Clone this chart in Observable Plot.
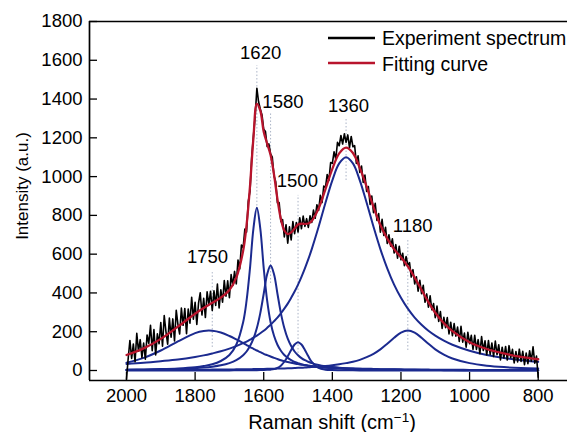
<!DOCTYPE html>
<html><head><meta charset="utf-8">
<script src="https://cdn.jsdelivr.net/npm/d3@7"></script>
<script src="https://cdn.jsdelivr.net/npm/@observablehq/plot@0.6"></script>
<style>
html,body{margin:0;padding:0;background:#fff;}
#chart svg{display:block;}
</style></head><body><div id="chart"></div>
<script>
// Raman shift grid (cm-1) on which the fitted curves were read
const shift = [2000,1950,1900,1850,1800,1775,1750,1725,1700,1680,1660,1650,1640,1630,1620,1610,1600,1590,1580,1570,1560,1550,1540,1530,1520,1510,1500,1490,1480,1470,1460,1440,1420,1400,1380,1360,1340,1320,1300,1280,1260,1240,1220,1200,1180,1160,1140,1120,1100,1075,1050,1000,950,900,850,800];
// fitted component bands (a.u.)
const band1750 = [40,65,103,150,193,204,205,196,178,160,141,131,121,112,103,95,86,79,72,65,59,53,48,44,40,36,33,30,27,25,23,19,16,15,13,11,10,9,9,8,7,7,6,6,5,5,5,4.5,4,4,4,3,3,3,2,2];
const band1620 = [3.9,5.2,7.2,10.6,17,23,32,49,80,133,249,360,528,732,840,732,528,360,249,179,133,102,80,65,53,44,38,32,28,24.5,21.6,17.2,14,11.6,9.7,8.3,7.2,6.3,5.5,4.9,4.4,3.9,3.5,3.2,2.9,2.7,2.5,2.3,2.1,1.9,1.75,1.5,1.3,1.1,1.0,0.85];
const band1580 = [3.3,4.3,5.7,8,11.9,15,19.7,26.6,38,53,79,98,126,164,219,296,396,496,541,496,396,296,219,164,126,98,79,64,53,45,38,28.5,22,17.6,14.3,11.9,10,8.6,7.4,6.5,5.7,5.1,4.5,4.0,3.7,3.3,3.0,2.8,2.5,2.3,2.1,1.75,1.5,1.3,1.1,0.97];
const band1500 = [0.1,0.1,0.2,0.2,0.3,0.3,0.4,0.5,0.6,0.7,0.9,1.1,1.2,1.4,1.8,2.1,2.4,3.2,4.4,7,13,25,45,73,106,134,146,134,106,73,45,13,4.4,2.4,1.6,1.1,0.8,0.6,0.6,0.5,0.4,0.4,0.3,0.3,0.3,0.3,0.2,0.2,0.2,0.2,0.2,0.1,0.1,0.1,0.1,0.1];
const band1360 = [34,40,48,57,70,78,88,99,113,126,141,149,159,169,180,192,205,220,236,254,273,295,319,345,375,407,443,483,527,574,626,741,865,981,1068,1100,1068,981,865,741,626,527,443,375,319,273,236,205,180,154,133,102,80,65,53,44.5];
const band1180 = [2.2,2.5,2.8,3.3,3.8,4.1,4.5,4.9,5.4,5.8,6.3,6.5,6.8,7.1,7.4,7.7,8.1,8.5,8.9,9.3,9.8,10.3,10.9,11.5,12.1,12.8,13.6,14.4,15.3,16.3,17.4,20,23,27,32,38,45,55,69,86,109,138,169,195,206,195,169,138,109,82,62,38,25,17.4,12.8,9.8];
// fitting curve (a.u.)
const fitting = [80,114,163,226,293,322,349,376,415,479,617,750,950,1200,1375,1340,1232,1170,1111,1010,884,781,722,703,712,732,753,757,756,758,771,836,936,1040,1120,1150,1122,1045,948,843,750,680,626,584,537,479,416,353,298,244,203,146,111,88,70,58];
// experiment spectrum, sampled every 5 cm-1 from 2000 down to 800
const specStart = 2000, specStep = 5;
const experiment = [-45,63,155,62,137,45,192,99,159,66,141,58,183,140,233,102,211,80,189,138,247,125,283,201,136,270,172,266,152,311,237,188,322,233,320,190,317,244,378,265,352,238,347,401,286,372,273,406,340,409,310,411,336,446,323,416,352,464,383,463,375,495,439,511,447,570,524,647,633,729,714,874,924,1100,1210,1310,1456,1386,1349,1318,1244,1233,1155,1169,1117,1100,1003,973,864,866,768,778,689,752,657,741,673,768,706,763,714,788,731,796,743,783,738,798,764,827,785,855,826,904,866,951,944,1011,980,1073,1068,1128,1090,1177,1159,1212,1168,1221,1177,1215,1149,1207,1154,1160,1068,1107,1022,1055,970,1008,923,949,856,900,814,862,774,809,713,780,697,738,655,700,641,679,606,649,579,641,571,605,541,588,544,556,482,520,446,483,409,465,396,439,352,395,327,385,313,345,272,332,253,304,217,274,221,273,189,249,180,242,177,224,150,228,146,193,120,197,138,181,109,181,109,159,87,175,103,153,81,154,83,142,72,152,82,133,55,120,65,124,54,128,66,109,39,98,44,110,47,99,30,90,35,102,48,122,38,74,-35];
// peak annotations
const peaks = [1750,1620,1580,1500,1360,1180];
const peakText = ["1750","1620","1580","1500","1360","1180"];
const labelAt = [1764,1609,1544,1502,1353,1166];
const labelLevel = [552,1609,1356,944,1331,712];
const guideTop = [505,1573,1331,903,1300,670];
const guideBottom = [119,830,449,88,980,103];
// axes
const xTicks = [2000,1800,1600,1400,1200,1000,800];
const yTicks = [0,200,400,600,800,1000,1200,1400,1600,1800];
const xDomain = [2107.8, 714.6];
const yDomain = [-51.6, 1800];

const bandNames = ["1750","1620","1580","1500","1360","1180"];
const bandValues = [band1750,band1620,band1580,band1500,band1360,band1180];
const bandRows = bandValues.flatMap((vals, k) => vals.map((v, i) => ({shift: shift[i], value: v, band: bandNames[k]})));
const fitRows = fitting.map((v, i) => ({shift: shift[i], value: v}));
const specRows = experiment.map((v, i) => ({shift: specStart - i * specStep, value: v}));
const peakRows = peaks.map((p, i) => ({peak: p, text: peakText[i], at: labelAt[i], level: labelLevel[i], top: guideTop[i], bottom: guideBottom[i]}));

const FONT = "'Liberation Sans', Arial, Helvetica, sans-serif";
const navy = "#1b2a8f", red = "#b8142c";

const chart = Plot.plot({
  width: 567, height: 432,
  marginLeft: 89, marginRight: 0, marginTop: 21, marginBottom: 52,
  style: {fontFamily: FONT, fontSize: "18.5px", color: "#000", background: "#fff", overflow: "visible"},
  x: {domain: xDomain},
  y: {domain: yDomain},
  marks: [
    Plot.ruleX(peakRows, {x: "peak", y1: "bottom", y2: "top", stroke: "#aab3c6", strokeWidth: 1, strokeDasharray: "1.5,2"}),
    Plot.line(bandRows, {x: "shift", y: "value", z: "band", stroke: navy, strokeWidth: 2, curve: "catmull-rom"}),
    Plot.line(specRows, {x: "shift", y: "value", stroke: "#000", strokeWidth: 1.6}),
    Plot.line(fitRows, {x: "shift", y: "value", stroke: red, strokeWidth: 2.3, curve: "catmull-rom"}),
    Plot.text(peakRows, {x: "at", y: "level", text: "text", fontSize: 18.5, textAnchor: "middle", lineAnchor: "bottom", fill: "#000"}),
    Plot.ruleY([yDomain[1]], {stroke: "#000", strokeWidth: 1.7}),
    Plot.ruleY([yDomain[0]], {stroke: "#000", strokeWidth: 1.7}),
    Plot.ruleX([xDomain[0]], {stroke: "#000", strokeWidth: 1.7}),
    Plot.axisX({ticks: xTicks, tickSize: -8, tickPadding: 16, tickFormat: d => String(d), label: null, fontSize: 18.5, strokeWidth: 1.3}),
    Plot.axisY({ticks: yTicks, tickSize: -8, tickPadding: 15, tickFormat: d => String(d), label: null, fontSize: 18.5, strokeWidth: 1.3})
  ]
});
document.getElementById("chart").appendChild(chart);

const svg = d3.select(chart);
const xt = svg.append("text").attr("x", 332).attr("y", 429).attr("text-anchor", "middle")
  .attr("font-family", FONT).attr("font-size", 20).attr("fill", "#000");
xt.append("tspan").text("Raman shift (cm");
xt.append("tspan").attr("dy", -7).attr("font-size", 13.5).text("\u22121");
xt.append("tspan").attr("dy", 7).text(")");
svg.append("text").attr("transform", "translate(27.5,186) rotate(-90)").attr("text-anchor", "middle")
  .attr("font-family", FONT).attr("font-size", 17).attr("fill", "#000").text("Intensity (a.u.)");
const legend = [["Experiment spectrum", "#000", 38, 45], ["Fitting curve", red, 63, 71]];
for (const [label, color, ly, ty] of legend) {
  svg.append("line").attr("x1", 328).attr("x2", 375).attr("y1", ly).attr("y2", ly).attr("stroke", color).attr("stroke-width", 2.5);
  svg.append("text").attr("x", 382).attr("y", ty).attr("text-anchor", "start").attr("font-family", FONT).attr("font-size", 19.5).attr("fill", "#000").text(label);
}
</script></body></html>
